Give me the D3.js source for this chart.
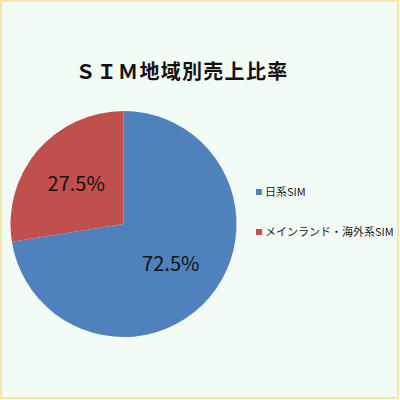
<!DOCTYPE html>
<html>
<head>
<meta charset="utf-8">
<script src="https://cdn.jsdelivr.net/npm/d3@7"></script>
<style>
  html, body { margin: 0; padding: 0; }
  body { width: 400px; height: 400px; overflow: hidden; }
</style>
</head>
<body>
<svg id="chart" width="400" height="400"></svg>
<script>
// data
const categories = ["日系SIM", "メインランド・海外系SIM"];
const values = [72.5, 27.5];
const colors = ["#4F81BD", "#C0504D"];
const title = "ＳＩＭ地域別売上比率";

const svg = d3.select("#chart");
const font = "'Noto Sans CJK JP', 'Noto Sans', sans-serif";

// background + thin yellow frame
svg.append("rect").attr("x", 0).attr("y", 0).attr("width", 400).attr("height", 400)
  .attr("fill", "#F2FBF6");
svg.append("rect").attr("x", 1).attr("y", 1).attr("width", 397).attr("height", 397)
  .attr("fill", "none").attr("stroke", "#EFE7B4").attr("stroke-width", 2);

svg.append("text")
  .attr("x", 182).attr("y", 79)
  .attr("text-anchor", "middle")
  .attr("font-family", font).attr("font-weight", "bold")
  .attr("font-size", 20).attr("letter-spacing", 1.3)
  .attr("fill", "#111")
  .text(title);

const cx = 123.5, cy = 224, r = 113;
const pie = d3.pie().sort(null).value(d => d)(values);
const arc = d3.arc().innerRadius(0).outerRadius(r);
const labelArc = d3.arc().innerRadius(r * 0.55).outerRadius(r * 0.55);

const g = svg.append("g").attr("transform", `translate(${cx},${cy})`);
g.selectAll("path")
  .data(pie)
  .join("path")
  .attr("d", arc)
  .attr("fill", (d, i) => colors[i]);

g.selectAll("text")
  .data(pie)
  .join("text")
  .attr("transform", d => `translate(${labelArc.centroid(d)})`)
  .attr("text-anchor", "middle")
  .attr("dy", "0.35em")
  .attr("font-family", font)
  .attr("font-size", 20)
  .attr("fill", "#111")
  .text(d => d.data.toFixed(1) + "%");

// legend
const legendY = d3.scaleBand().domain(categories).range([172, 252]);
const leg = svg.append("g").selectAll("g")
  .data(categories)
  .join("g")
  .attr("transform", d => `translate(256,${legendY(d) + legendY.bandwidth() / 2})`);
leg.append("rect")
  .attr("x", 0).attr("y", -3).attr("width", 6).attr("height", 6)
  .attr("fill", (d, i) => colors[i]);
leg.append("text")
  .attr("x", 9).attr("dy", "0.35em")
  .attr("font-family", font).attr("font-size", 11)
  .attr("fill", "#222")
  .text(d => d);
</script>
</body>
</html>
